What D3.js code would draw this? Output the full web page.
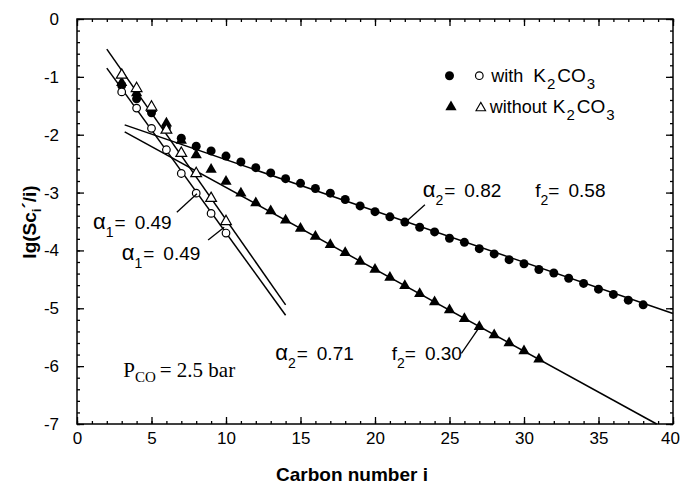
<!DOCTYPE html>
<html><head><meta charset="utf-8">
<script src="https://cdn.jsdelivr.net/npm/d3@7"></script>
<style>
body{margin:0;background:#fff;}
svg text{font-family:"Liberation Sans",Arial,sans-serif;fill:#000;}
</style></head>
<body><svg id="c" width="681" height="486"></svg>
<script>
// ---------- data ----------
const xMajorTicks = [0,5,10,15,20,25,30,35,40];
const yMajorTicks = [0,-1,-2,-3,-4,-5,-6,-7];

const withFilledI = [3,4,5,6,7,8,9,10,11,12,13,14,15,16,17,18,19,20,21,22,23,24,25,26,27,28,29,30,31,32,33,34,35,36,37,38];
const withFilledV = [-1.15,-1.38,-1.62,-1.88,-2.06,-2.2,-2.28,-2.37,-2.47,-2.57,-2.66,-2.76,-2.84,-2.93,-3.01,-3.12,-3.23,-3.33,-3.42,-3.51,-3.60,-3.68,-3.79,-3.86,-3.97,-4.06,-4.16,-4.23,-4.33,-4.39,-4.48,-4.57,-4.67,-4.76,-4.86,-4.94];

const withoutFilledI = [3,4,5,6,7,8,9,10,11,12,13,14,15,16,17,18,19,20,21,22,23,24,25,26,27,28,29,30,31];
const withoutFilledV = [-1.1,-1.28,-1.55,-1.8,-2.1,-2.35,-2.6,-2.81,-3.01,-3.18,-3.32,-3.48,-3.62,-3.76,-3.90,-4.04,-4.19,-4.33,-4.47,-4.61,-4.75,-4.89,-5.03,-5.18,-5.32,-5.46,-5.60,-5.74,-5.88];

const withOpenI = [3,4,5,6,7,8,9,10];
const withOpenV = [-1.26,-1.54,-1.89,-2.26,-2.67,-3.01,-3.36,-3.70];
const withoutOpenI = [3,4,5,6,7,8,9,10];
const withoutOpenV = [-0.97,-1.2,-1.52,-1.92,-2.32,-2.67,-3.1,-3.5];

// fitted straight lines [i, value] end points
const fitAlpha1Without = [[2,-0.52],[14,-4.94]];
const fitAlpha1With    = [[2,-0.85],[14,-5.12]];
const fitAlpha2With    = [[3.2,-1.83],[40,-5.09]];
const fitAlpha2Without = [[3.2,-1.95],[38.9,-7.0]];

// ---------- layout ----------
const svg = d3.select("#c");
const L=77, R=673, T=19, B=424;
const x = d3.scaleLinear().domain([0,40]).range([L,R]);
const y = d3.scaleLinear().domain([0,-7]).range([T,B]);
const fmt = d => String(d);   // plain hyphen minus

svg.append("rect").attr("x",L).attr("y",T).attr("width",R-L).attr("height",B-T)
  .attr("fill","none").attr("stroke","#000").attr("stroke-width",1.5);

function styleAxis(g){ g.select(".domain").remove(); g.selectAll("line").attr("stroke","#000").attr("stroke-width",1.3); }
const xMinor = d3.range(0,41,1), yMinor = d3.range(0,-7.01,-0.2).map(v=>+v.toFixed(1));

// bottom
svg.append("g").attr("transform",`translate(0,${B})`)
  .call(d3.axisBottom(x).tickValues(xMinor).tickSize(-3).tickFormat("")).call(styleAxis);
const gb = svg.append("g").attr("transform",`translate(0,${B})`)
  .call(d3.axisBottom(x).tickValues(xMajorTicks).tickSize(-7).tickPadding(17).tickFormat(fmt)).call(styleAxis);
gb.selectAll("text").attr("font-size",17).attr("dy","0.2em").attr("dx",d=>d===40?-3:0);
// top
svg.append("g").attr("transform",`translate(0,${T})`)
  .call(d3.axisTop(x).tickValues(xMinor).tickSize(-3).tickFormat("")).call(styleAxis);
svg.append("g").attr("transform",`translate(0,${T})`)
  .call(d3.axisTop(x).tickValues(xMajorTicks).tickSize(-7).tickFormat("")).call(styleAxis);
// left
svg.append("g").attr("transform",`translate(${L},0)`)
  .call(d3.axisLeft(y).tickValues(yMinor).tickSize(-3).tickFormat("")).call(styleAxis);
const gl = svg.append("g").attr("transform",`translate(${L},0)`)
  .call(d3.axisLeft(y).tickValues(yMajorTicks).tickSize(-7).tickPadding(18).tickFormat(fmt)).call(styleAxis);
gl.selectAll("text").attr("font-size",17);
// right
svg.append("g").attr("transform",`translate(${R},0)`)
  .call(d3.axisRight(y).tickValues(yMinor).tickSize(-3).tickFormat("")).call(styleAxis);
svg.append("g").attr("transform",`translate(${R},0)`)
  .call(d3.axisRight(y).tickValues(yMajorTicks).tickSize(-7).tickFormat("")).call(styleAxis);

// axis titles
svg.append("text").attr("x",352).attr("y",481).attr("text-anchor","middle")
  .attr("font-size",19).attr("font-weight","bold").text("Carbon number i");
const yt = svg.append("text").attr("transform","translate(36,222) rotate(-90)").attr("text-anchor","middle")
  .attr("font-size",19).attr("font-weight","bold");
yt.append("tspan").text("lg(Sc");
yt.append("tspan").attr("font-size",13).attr("dy",5).text("i");
yt.append("tspan").attr("dy",-5).text("\u00B4/i)");

// fit lines
const line = d3.line().x(d=>x(d[0])).y(d=>y(d[1]));
[fitAlpha1Without,fitAlpha1With,fitAlpha2With,fitAlpha2Without].forEach(p=>{
  svg.append("path").attr("d",line(p)).attr("fill","none").attr("stroke","#000").attr("stroke-width",1.5);
});

// markers
const zip=(a,b)=>a.map((v,k)=>[v,b[k]]);
const tri = d3.symbol().type(d3.symbolTriangle);
svg.append("g").selectAll("path").data(zip(withoutFilledI,withoutFilledV)).join("path")
  .attr("d",tri.size(55)()).attr("transform",d=>`translate(${x(d[0])},${y(d[1])})`).attr("fill","#000");
svg.append("g").selectAll("circle").data(zip(withFilledI,withFilledV)).join("circle")
  .attr("cx",d=>x(d[0])).attr("cy",d=>y(d[1])).attr("r",4.5).attr("fill","#000");
svg.append("g").selectAll("path").data(zip(withoutOpenI,withoutOpenV)).join("path")
  .attr("d",tri.size(50)()).attr("transform",d=>`translate(${x(d[0])},${y(d[1])})`)
  .attr("fill","#fff").attr("stroke","#000").attr("stroke-width",1.2);
svg.append("g").selectAll("circle").data(zip(withOpenI,withOpenV)).join("circle")
  .attr("cx",d=>x(d[0])).attr("cy",d=>y(d[1])).attr("r",3.8)
  .attr("fill","#fff").attr("stroke","#000").attr("stroke-width",1.2);

// legend
const legRows = [{sym:"circle",label:"with",vy:-0.98},{sym:"tri",label:"without",vy:-1.52}];
legRows.forEach((r,k)=>{
  const cy = y(r.vy);
  if(r.sym==="circle"){
    svg.append("circle").attr("cx",x(25.0)).attr("cy",cy).attr("r",4.5).attr("fill","#000");
    svg.append("circle").attr("cx",x(27.0)).attr("cy",cy).attr("r",3.8).attr("fill","#fff").attr("stroke","#000").attr("stroke-width",1.2);
  } else {
    svg.append("path").attr("d",tri.size(55)()).attr("transform",`translate(${x(25.1)},${cy})`).attr("fill","#000");
    svg.append("path").attr("d",tri.size(40)()).attr("transform",`translate(${x(27.1)},${cy+1})`).attr("fill","#fff").attr("stroke","#000").attr("stroke-width",1.1);
  }
  const t = svg.append("text").attr("x",x(r.sym==="circle"?27.8:27.7)).attr("y",cy+6).attr("font-size",18);
  t.append("tspan").text(r.label);
  t.append("tspan").attr("font-size",19).attr("dx",r.sym==="circle"?10:6).text("K");
  t.append("tspan").attr("font-size",15).attr("dx",1).attr("dy",7).text("2");
  t.append("tspan").attr("font-size",19).attr("dx",2).attr("dy",-7).text("CO");
  t.append("tspan").attr("font-size",15).attr("dx",1).attr("dy",7).text("3");
});

// annotations (positions in data units)
function alphaLabel(ix,vy,sub,val,extra){
  const t = svg.append("text").attr("x",x(ix)).attr("y",y(vy)).attr("font-size",19);
  t.append("tspan").attr("font-size",22).text("\u03B1");
  t.append("tspan").attr("font-size",14).attr("dy",8).text(sub);
  t.append("tspan").attr("dy",-8).attr("dx",1).text("=");
  t.append("tspan").attr("dx",9).text(val);
  if(extra){
    t.append("tspan").attr("dx",extra.dx).text("f");
    t.append("tspan").attr("font-size",14).attr("dy",8).text("2");
    t.append("tspan").attr("dy",-8).text("=");
    t.append("tspan").attr("dx",9).text(extra.val);
  }
}
alphaLabel(1.08,-3.63,"1","0.49");
alphaLabel(3.0,-4.17,"1","0.49");
alphaLabel(23.2,-3.08,"2","0.82",{dx:34,val:"0.58"});
alphaLabel(13.3,-5.90,"2","0.71",{dx:38,val:"0.30"});

const pointers = [
  [[6.7,-3.34],[8.05,-3.02]],
  [[8.8,-3.82],[9.88,-3.6]],
  [[23.35,-3.21],[22.1,-3.5]],
  [[25.8,-5.78],[27.1,-5.29]]
];
pointers.forEach(p=>svg.append("path").attr("d",line(p)).attr("stroke","#000").attr("stroke-width",1.3).attr("fill","none"));

// P_CO label
const pc = svg.append("text").attr("x",x(3.1)).attr("y",y(-6.18)).attr("font-size",21)
  .style("font-family","'Liberation Serif','DejaVu Serif',serif");
pc.append("tspan").text("P");
pc.append("tspan").attr("font-size",15).attr("dy",5).text("CO");
pc.append("tspan").attr("dy",-5).attr("dx",4).text("= 2.5 bar");
</script></body></html>
